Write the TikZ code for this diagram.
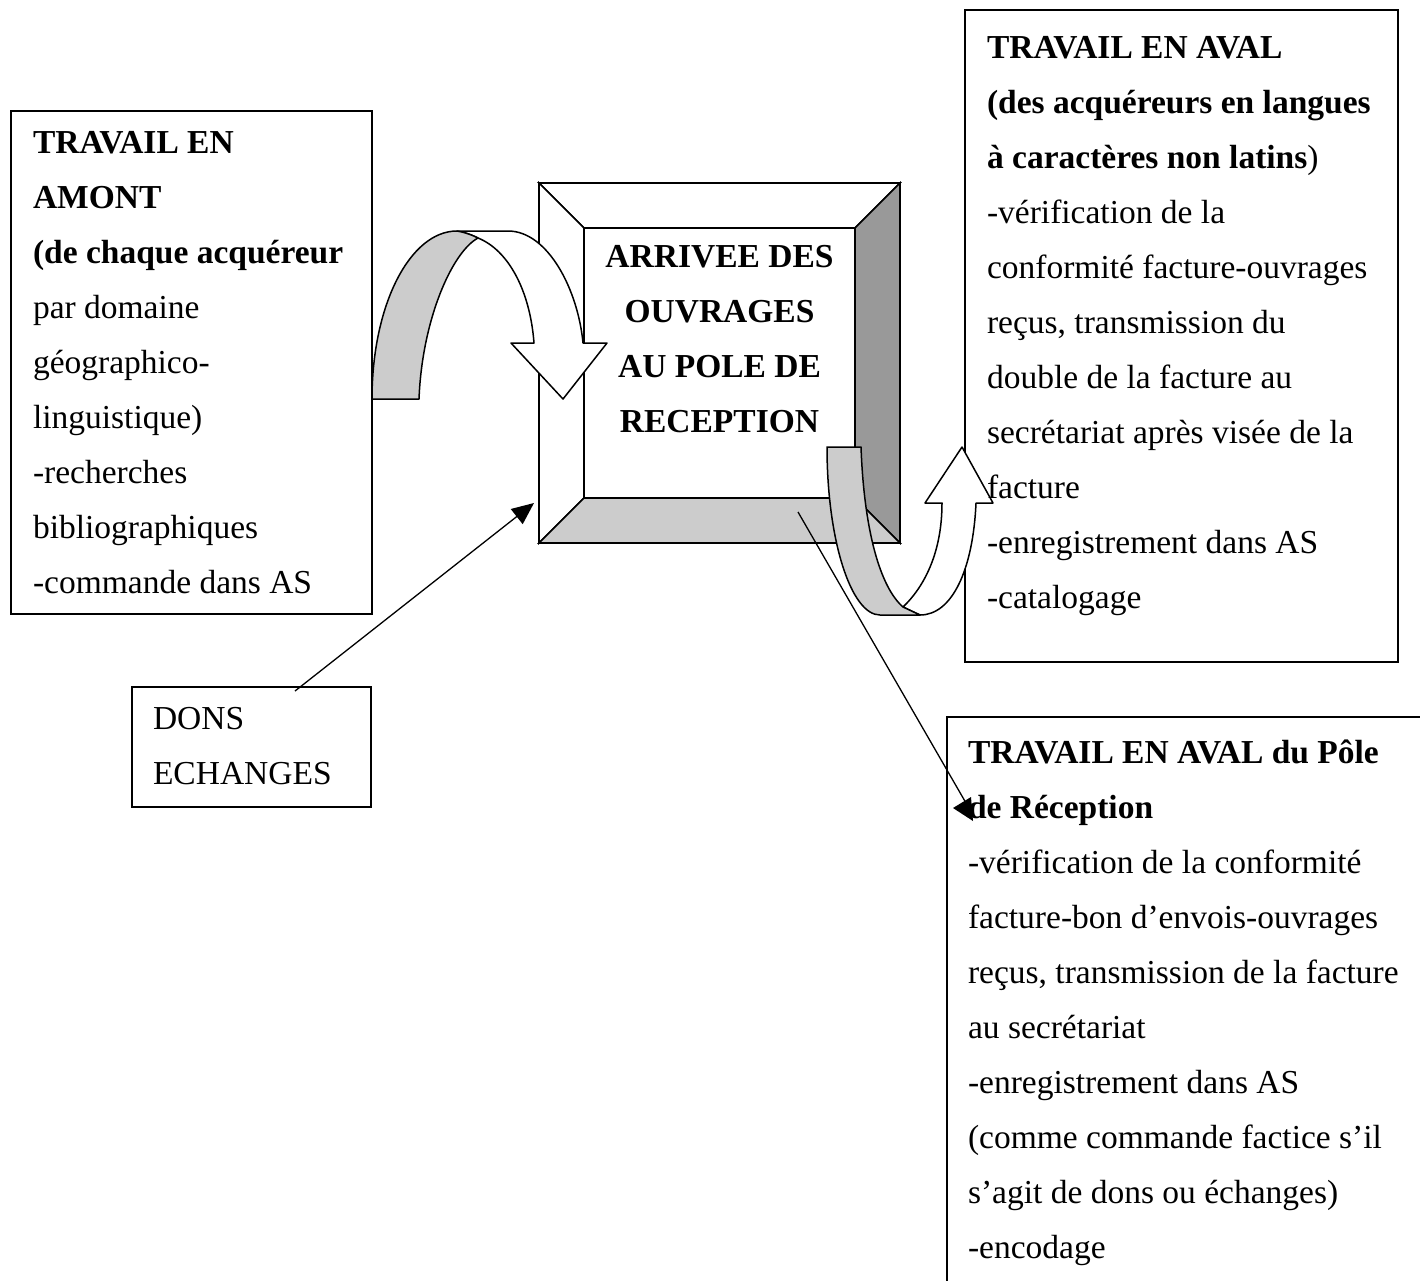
\documentclass[tikz,border=0pt]{standalone}
\usepackage{fontspec}
\setmainfont{Liberation Serif}
\usetikzlibrary{arrows.meta}
\definecolor{lightpanel}{RGB}{204,204,204}
\definecolor{darkpanel}{RGB}{153,153,153}
\newcommand\mylines[4]{%
  \foreach \linetext [count=\i from 0] in {#4} {
    \node[txt] (#1-\i) at (#2, #3+55*\i) {\linetext};
  }%
}
\begin{document}
\begin{tikzpicture}[x=1pt,y=-1pt,
  box/.style={draw, line width=1.8pt, inner sep=0pt, outer sep=0pt},
  txt/.style={anchor=base west, inner sep=0pt, outer sep=0pt, font=\fontsize{33.5}{40}\selectfont},
  ctxt/.style={anchor=base, inner sep=0pt, outer sep=0pt, font=\fontsize{33.5}{40}\selectfont\bfseries},
  panel/.style={draw, line width=1.6pt, line join=miter},
  band/.style={draw, line width=1.5pt, line join=round},
  conn/.style={draw, line width=1.3pt}
]
\useasboundingbox (0,0) rectangle (1420,1280);

% boxes
\node[box, minimum width=361pt, minimum height=503pt] (amont) at (191.5,362.5) {};
\node[box, minimum width=239pt, minimum height=120pt] (dons) at (251.5,747) {};
\node[box, minimum width=433pt, minimum height=652pt] (aval) at (1181.5,336) {};
\node[box, minimum width=486pt, minimum height=586pt] (pole) at (1190,1010) {};

% bevel box
\node[inner sep=0pt, outer sep=0pt, minimum width=361pt, minimum height=360pt] (recep) at (719.5,363) {};
\fill[white] (539,183) rectangle (900,543);
\path[panel, fill=white] (539,183) -- (900,183) -- (855,228) -- (584,228) -- cycle;
\path[panel, fill=white] (539,183) -- (584,228) -- (584,498) -- (539,543) -- cycle;
\path[panel, fill=darkpanel] (900,183) -- (900,543) -- (855,498) -- (855,228) -- cycle;
\path[panel, fill=lightpanel] (539,543) -- (900,543) -- (855,498) -- (584,498) -- cycle;
\path[panel, fill=white] (584,228) rectangle (855,498);

% connectors
\coordinate (donsout) at (295,691);
\coordinate (recepin) at (534,503);
\draw[conn, -{Triangle[length=22pt,width=19pt]}] (donsout) -- (recepin);
\coordinate (recepout) at (798,512);
\coordinate (polein) at (966,803);
\draw[conn] (recepout) -- (polein);
\fill (953,808) -- (971,797) -- (973,821) -- cycle;

% curved arrow 1 (amont -> reception)
\path[band, fill=white] (457,231) -- (508,231) .. controls (548,231) and (578,290) .. (583,343)
  -- (607,343) -- (563,399) -- (511,343) -- (534,343)
  .. controls (530,290) and (508,250) .. (478,238)
  .. controls (470,234) and (463,232) .. (457,231) -- cycle;
\path[band, fill=lightpanel] (372,399) .. controls (372,305) and (410,231) .. (457,231)
  .. controls (463,232) and (470,234) .. (478,238)
  .. controls (452,252) and (422,320) .. (419,399) -- cycle;

% curved arrow 2 (reception -> aval)
\path[band, fill=white] (903,607) .. controls (926,585) and (942,550) .. (942,503)
  -- (925,503) -- (962,447) -- (993,503) -- (976,503)
  .. controls (973,570) and (952,615) .. (920,615) -- cycle;
\path[band, fill=lightpanel] (827,447) -- (861,447) .. controls (864,530) and (880,587) .. (903,607)
  -- (920,615) -- (880,615) .. controls (851,615) and (827,540) .. (827,447) -- cycle;

% texts
\mylines{amonttxt}{33}{153}{\textbf{TRAVAIL EN},\textbf{AMONT},\textbf{(de chaque acquéreur},par domaine,géographico-,{linguistique)},-recherches,bibliographiques,-commande dans AS}
\mylines{donstxt}{153}{729}{DONS,ECHANGES}
\mylines{avaltxt}{987}{58}{\textbf{TRAVAIL EN AVAL},\textbf{(des acquéreurs en langues},{\textbf{à caractères non latins})},-vérification de la,conformité facture-ouvrages,{reçus, transmission du},double de la facture au,secrétariat après visée de la,facture,-enregistrement dans AS,-catalogage}
\mylines{poletxt}{968}{763}{\textbf{TRAVAIL EN AVAL du Pôle},\textbf{de Réception},-vérification de la conformité,facture-bon d’envois-ouvrages,{reçus, transmission de la facture},au secrétariat,-enregistrement dans AS,{(comme commande factice s’il},{s’agit de dons ou échanges)},-encodage}
\node[ctxt] (receptxt-0) at (719.5,267) {ARRIVEE DES};
\node[ctxt] (receptxt-1) at (719.5,322) {OUVRAGES};
\node[ctxt] (receptxt-2) at (719.5,377) {AU POLE DE};
\node[ctxt] (receptxt-3) at (719.5,432) {RECEPTION};
\end{tikzpicture}
\end{document}
